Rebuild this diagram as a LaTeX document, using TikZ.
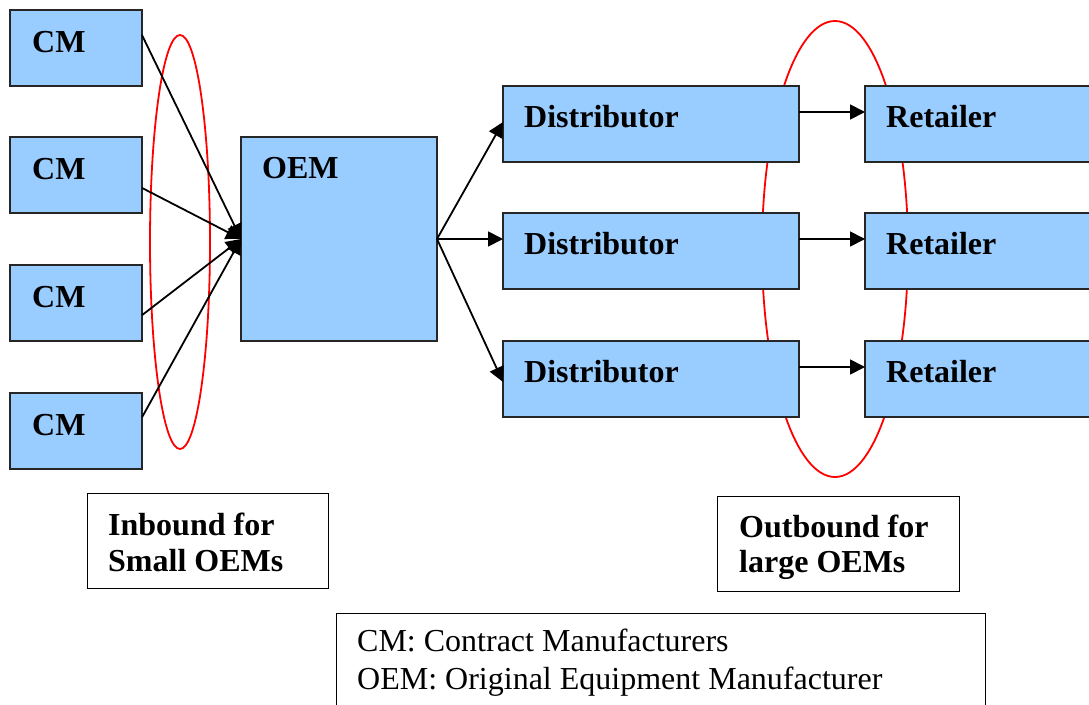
\documentclass[tikz,border=0pt]{standalone}
\usepackage{fontspec}
\setmainfont{Liberation Serif}
\usetikzlibrary{arrows.meta,calc}
\definecolor{boxblue}{HTML}{99CCFF}
\definecolor{ringred}{HTML}{FF0000}

\begin{document}
\begin{tikzpicture}[x=1pt,y=-1pt,
  box/.style={draw=black!85, line width=1.6pt, fill=boxblue, rectangle,
    anchor=north west, inner sep=0pt, outer sep=0pt},
  cmbox/.style={box, minimum width=132pt, minimum height=76pt},
  oembox/.style={box, minimum width=196pt, minimum height=204pt},
  distbox/.style={box, minimum width=296pt, minimum height=76pt},
  retbox/.style={box, minimum width=260pt, minimum height=76pt},
  notebox/.style={draw=black, line width=1.4pt, fill=white, rectangle,
    anchor=north west, inner sep=0pt},
  tag/.style={anchor=base west, inner sep=0pt, font=\bfseries\fontsize{32}{38}\selectfont},
  plain/.style={anchor=base west, inner sep=0pt, font=\fontsize{32}{38}\selectfont},
  flow/.style={draw=black, line width=1.8pt, -{Triangle[length=15pt,width=15pt]}},
  ring/.style={draw=ringred, line width=1.8pt}
]
\useasboundingbox (0,0) rectangle (1089,704);

% outbound ring sits behind the boxes
\draw[ring] (835,249) ellipse [x radius=73, y radius=228];

% contract manufacturers
\node[cmbox] (cm1) at (10,10) {};
\node[cmbox] (cm2) at (10,137) {};
\node[cmbox] (cm3) at (10,265) {};
\node[cmbox] (cm4) at (10,393) {};
\foreach \i in {1,2,3,4}
  \node[tag] (cmt\i) at ($(cm\i.north west)+(22,42)$) {CM};

% original equipment manufacturer
\node[oembox] (oem) at (241,137) {};
\node[tag] (oemt) at ($(oem.north west)+(21,41)$) {OEM};
\coordinate (hub) at ($(oem.north east)+(0,102)$);

% distributors and retailers
\foreach \i/\y in {1/86,2/213,3/341}{
  \node[distbox] (d\i) at (503,\y) {};
  \node[tag] (dt\i) at ($(d\i.north west)+(21,41)$) {Distributor};
  \node[retbox] (r\i) at (865,\y) {};
  \node[tag] (rt\i) at ($(r\i.north west)+(21,41)$) {Retailer};
}

% inbound ring
\draw[ring] (180,242) ellipse [x radius=30, y radius=207];

% inbound flows
\draw[flow] ($(cm1.north east)!0.33!(cm1.south east)$) -- (oem.west);
\draw[flow] ($(cm2.north east)!0.67!(cm2.south east)$) -- (oem.west);
\draw[flow] ($(cm3.north east)!0.66!(cm3.south east)$) -- (oem.west);
\draw[flow] ($(cm4.north east)!0.32!(cm4.south east)$) -- (oem.west);

% outbound flows
\draw[flow] (hub) -- ($(d1.west)+(0,-2)$);
\draw[flow] (hub) -- (hub -| d2.west);
\draw[flow] (hub) -- ($(d3.west)+(0,3)$);
\foreach \i in {1,2,3}
  \draw[flow] ($(d\i.north east)+(0,26)$) -- ($(r\i.north west)+(0,26)$);

% captions
\node[notebox, minimum width=241pt, minimum height=95pt] (inb) at (87,493) {};
\node[tag] (inb1) at (108,535) {Inbound for};
\node[tag] (inb2) at (108,571) {Small OEMs};

\node[notebox, minimum width=242pt, minimum height=95pt] (outb) at (717,496) {};
\node[tag] (outb1) at (739,537) {Outbound for};
\node[tag] (outb2) at (739,572) {large OEMs};

% legend
\node[notebox, minimum width=649pt, minimum height=120pt] (key) at (336,613) {};
\node[plain] (key1) at (357,651) {CM: Contract Manufacturers};
\node[plain] (key2) at (357,689) {OEM: Original Equipment Manufacturer};
\end{tikzpicture}
\end{document}
